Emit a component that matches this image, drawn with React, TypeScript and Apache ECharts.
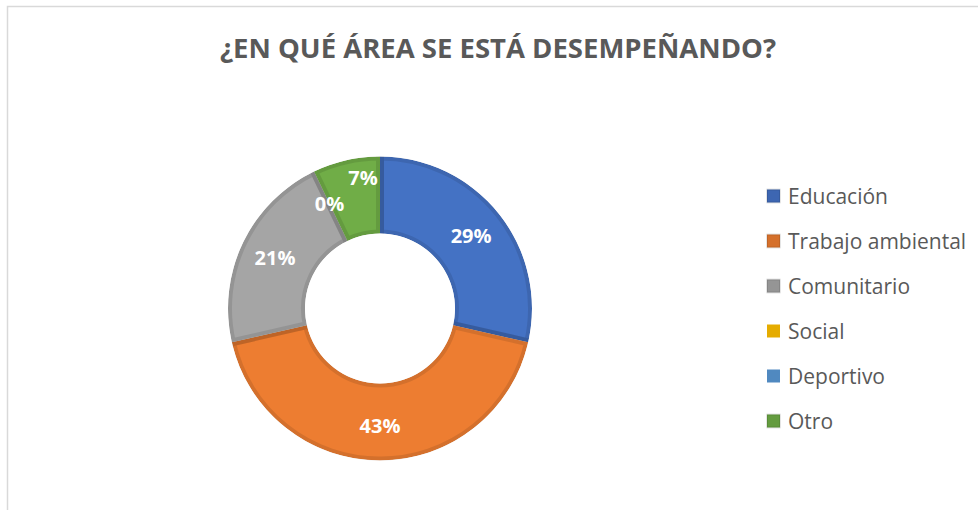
import React, { useEffect, useRef } from "react";
import * as echarts from "echarts";

const TITLE = "¿EN QUÉ ÁREA SE ESTÁ DESEMPEÑANDO?";
const categories = ["Educación", "Trabajo ambiental", "Comunitario", "Social", "Deportivo", "Otro"];
const counts = [4, 6, 3, 0, 0, 1];
const fillColors = ["#4472C4", "#ED7D31", "#A5A5A5", "#FFC000", "#5B9BD5", "#70AD47"];
const legendColors = ["#3D66B2", "#D5702B", "#959595", "#E5AC00", "#5089C0", "#649C3F"];

const CX = 380;
const CY = 308.5;
const R_IN = 75;
const R_OUT = 152;

export default function App() {
  const ref = useRef<HTMLDivElement>(null);
  useEffect(() => {
    if (!ref.current) return;
    const chart = echarts.init(ref.current, null, { renderer: "svg" });
    chart.setOption({
      animation: false,
      backgroundColor: "#FFFFFF",
      graphic: [
        {
          type: "rect",
          shape: { x: 7.5, y: 6.5, width: 1200, height: 800 },
          style: { fill: "none", stroke: "#D9D9D9", lineWidth: 1.5 },
          silent: true,
        },
        {
          type: "ring",
          shape: { cx: CX, cy: CY, r: R_OUT + 8, r0: R_OUT },
          style: { fill: "#FFFFFF" },
          z: 10,
          silent: true,
        },
        {
          type: "circle",
          shape: { cx: CX, cy: CY, r: R_IN },
          style: { fill: "#FFFFFF" },
          z: 10,
          silent: true,
        },
        {
          type: "text",
          x: 498,
          y: 47,
          style: {
            text: TITLE,
            textAlign: "center",
            textVerticalAlign: "middle",
            fill: "#595959",
            font: "bold 27.5px 'Open Sans'",
          },
          silent: true,
        },
      ],
      legend: {
        orient: "vertical",
        left: 766,
        top: 185.5,
        padding: 0,
        icon: "rect",
        itemWidth: 13,
        itemHeight: 13,
        itemGap: 24,
        data: categories.map((name, i) => ({ name, itemStyle: { color: legendColors[i] } })),
        textStyle: {
          fontFamily: "Open Sans",
          fontSize: 21,
          lineHeight: 21,
          color: "#595959",
          padding: [0, 0, 0, 3],
        },
      },
      series: [
        {
          type: "pie",
          center: [CX, CY],
          radius: [R_IN, R_OUT],
          startAngle: 90,
          clockwise: true,
          percentPrecision: 0,
          silent: true,
          emphasis: { disabled: true },
          labelLine: { show: false },
          label: {
            show: true,
            position: "inside",
            formatter: "{d}%",
            color: "#FFFFFF",
            fontFamily: "Open Sans",
            fontWeight: "bold",
            fontSize: 20,
          },
          data: categories.map((name, i) => ({
            name,
            value: counts[i],
            itemStyle: {
              color: fillColors[i],
              borderColor: "rgba(0,0,0,0.1)",
              borderWidth: counts[i] > 0 ? 8 : 0,
            },
            label:
              name === "Deportivo"
                ? { show: false }
                : name === "Otro"
                ? { offset: [9, -17] }
                : {},
          })),
        },
      ],
    });
    return () => chart.dispose();
  }, []);
  return (
    <div
      ref={ref}
      style={{ position: "absolute", left: 0, top: 0, width: 978, height: 510 }}
    />
  );
}
